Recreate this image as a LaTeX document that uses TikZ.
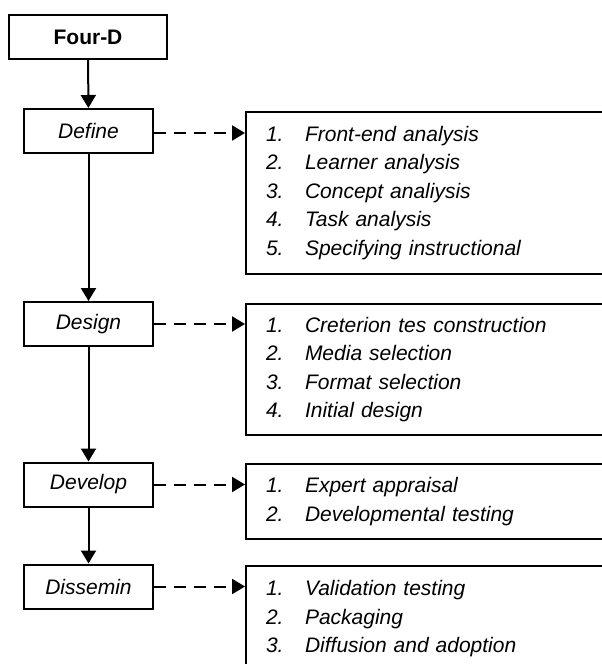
\documentclass[tikz,border=0pt]{standalone}
\usepackage{fontspec}
\setmainfont{Liberation Sans}
\usetikzlibrary{arrows.meta}
\begin{document}
\begin{tikzpicture}[x=1pt,y=-1pt,
  every node/.style={font=\fontsize{21}{28.5}\selectfont\itshape},
  phase/.style={draw,line width=2pt,minimum width=129pt,minimum height=44pt,inner sep=0pt,anchor=center},
  listbox/.style={draw,line width=2pt,anchor=north west,minimum width=375pt,inner xsep=20pt,inner ysep=0pt,text width=335pt,align=left},
  flow/.style={line width=2pt,-{Triangle[length=13pt,width=15pt]}},
  link/.style={line width=2pt,dash pattern=on 12pt off 8pt,-{Triangle[length=13pt,width=15pt]}}]
\useasboundingbox (0,0) rectangle (602,664);
\clip (0,0) rectangle (602,664);
\newcommand{\nm}[1]{\makebox[39pt][l]{#1}}
\node[phase,minimum width=158pt,font=\fontsize{21}{25}\selectfont\bfseries] (four) at (88,37) {Four-D};
\node[phase] (define) at (88.5,131) {Define};
\node[phase] (design) at (88.5,324) {Design};
\node[phase] (develop) at (88.5,484.5) {Develop};
\node[phase] (dissem) at (88.5,586.5) {Dissemin};
\node[listbox,minimum height=162pt] (l1) at (245,111) {\nm{1.}Front-end analysis\\\nm{2.}Learner analysis\\\nm{3.}Concept analiysis\\\nm{4.}Task analysis\\\nm{5.}Specifying instructional};
\node[listbox,minimum height=131pt] (l2) at (245,303) {\nm{1.}Creterion tes construction\\\nm{2.}Media selection\\\nm{3.}Format selection\\\nm{4.}Initial design};
\node[listbox,minimum height=75pt] (l3) at (245,463) {\nm{1.}Expert appraisal\\\nm{2.}Developmental testing};
\node[listbox,minimum height=106pt] (l4) at (245,565) {\nm{1.}Validation testing\\\nm{2.}Packaging\\\nm{3.}Diffusion and adoption};
\draw[flow] (four) -- (define);
\draw[flow] (define) -- (design);
\draw[flow] (design) -- (develop);
\draw[flow] (develop) -- (dissem);
\draw[link] ([yshift=-2pt]define.east) -- ([yshift=-2pt]define.east -| l1.west);
\draw[link] (design.east) -- (design.east -| l2.west);
\draw[link] (develop.east) -- (develop.east -| l3.west);
\draw[link] (dissem.east) -- (dissem.east -| l4.west);
\end{tikzpicture}
\end{document}
